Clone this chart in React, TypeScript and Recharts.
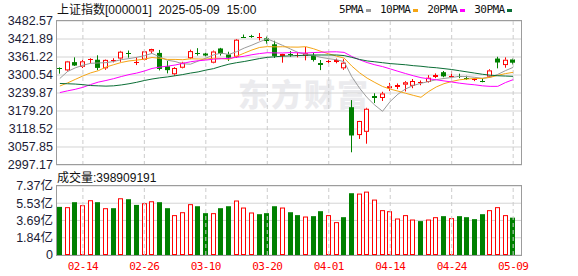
import React from 'react';
import { ComposedChart, BarChart, Bar, Line, XAxis, YAxis, CartesianGrid, ReferenceLine } from 'recharts';

// 交易日 (2025)
const dates = [
  '02-11', '02-12', '02-13', '02-14', '02-17', '02-18', '02-19', '02-20', '02-21', '02-24',
  '02-25', '02-26', '02-27', '02-28', '03-03', '03-04', '03-05', '03-06', '03-07', '03-10',
  '03-11', '03-12', '03-13', '03-14', '03-17', '03-18', '03-19', '03-20', '03-21', '03-24',
  '03-25', '03-26', '03-27', '03-28', '03-31', '04-01', '04-02', '04-03', '04-07', '04-08',
  '04-09', '04-10', '04-11', '04-14', '04-15', '04-16', '04-17', '04-18', '04-21', '04-22',
  '04-23', '04-24', '04-25', '04-28', '04-29', '04-30', '05-06', '05-07', '05-08', '05-09',
];

const opens = [
  3323, 3316, 3344, 3328, 3352, 3352, 3323, 3349, 3356, 3375,
  3343, 3352, 3380, 3375, 3330, 3303, 3325, 3357, 3376, 3373,
  3342, 3390, 3370, 3362, 3430, 3432, 3426, 3424, 3404, 3364,
  3371, 3367, 3365, 3366, 3341, 3345, 3345, 3323, 3192, 3098,
  3109, 3229, 3223, 3256, 3262, 3268, 3264, 3272, 3277, 3294,
  3310, 3295, 3298, 3292, 3282, 3282, 3295, 3356, 3334, 3353,
];
const highs = [
  3326, 3348, 3360, 3352, 3357, 3367, 3353, 3357, 3382, 3383,
  3360, 3381, 3389, 3385, 3348, 3327, 3345, 3386, 3391, 3376,
  3383, 3392, 3379, 3422, 3437, 3436, 3442, 3430, 3416, 3372,
  3381, 3376, 3395, 3376, 3351, 3352, 3356, 3354, 3216, 3146,
  3190, 3239, 3244, 3274, 3272, 3280, 3287, 3282, 3300, 3306,
  3314, 3314, 3305, 3298, 3290, 3290, 3320, 3362, 3360, 3356,
];
const lows = [
  3305, 3312, 3331, 3324, 3340, 3317, 3318, 3343, 3345, 3359,
  3334, 3350, 3374, 3316, 3306, 3298, 3323, 3354, 3366, 3362,
  3340, 3366, 3348, 3358, 3426, 3426, 3417, 3406, 3358, 3342,
  3362, 3360, 3350, 3346, 3317, 3340, 3340, 3318, 3040, 3085,
  3069, 3206, 3213, 3247, 3253, 3245, 3256, 3266, 3275, 3290,
  3293, 3289, 3290, 3284, 3280, 3276, 3293, 3323, 3325, 3336,
];
const closes = [
  3318.1, 3346.4, 3332.5, 3346.7, 3355.8, 3324.5, 3351.5, 3350.8, 3379.1, 3373.0,
  3346.0, 3380.2, 3388.1, 3320.9, 3316.9, 3324.2, 3342.0, 3381.1, 3372.6, 3366.2,
  3379.8, 3372.0, 3358.7, 3419.6, 3426.4, 3429.8, 3427.7, 3415.0, 3364.8, 3370.0,
  3370.0, 3368.7, 3373.8, 3351.3, 3335.8, 3348.4, 3351.0, 3342.0, 3096.6, 3145.6,
  3186.8, 3223.6, 3238.2, 3262.8, 3267.7, 3276.0, 3280.3, 3276.7, 3291.4, 3299.8,
  3296.0, 3297.3, 3295.1, 3288.4, 3286.7, 3279.0, 3316.1, 3342.7, 3352.0, 3342.0,
];

const ma5 = [
  3288.8, 3312.2, 3324.6, 3333.2, 3339.9, 3341.2, 3342.2, 3345.9, 3352.4, 3355.8,
  3360.1, 3365.8, 3373.3, 3361.6, 3350.4, 3346.1, 3338.4, 3337.0, 3347.4, 3357.2,
  3368.3, 3374.3, 3369.8, 3379.2, 3391.3, 3401.3, 3412.4, 3422.5, 3411.5, 3400.3,
  3388.3, 3376.5, 3369.5, 3366.8, 3359.9, 3355.6, 3351.9, 3345.5, 3294.6, 3256.5,
  3224.2, 3198.9, 3178.2, 3211.4, 3235.8, 3253.7, 3265.0, 3272.7, 3278.4, 3284.9,
  3288.9, 3292.3, 3295.9, 3295.3, 3292.7, 3289.3, 3293.1, 3302.6, 3315.3, 3326.4,
];
const ma10 = [
  3263.4, 3273.8, 3285.6, 3297.3, 3307.6, 3315.0, 3327.2, 3335.2, 3342.8, 3347.9,
  3350.7, 3354.0, 3359.6, 3357.0, 3353.1, 3353.1, 3352.1, 3355.2, 3354.5, 3353.8,
  3357.2, 3356.4, 3353.4, 3363.3, 3374.3, 3384.8, 3393.4, 3396.2, 3395.4, 3395.8,
  3394.8, 3394.5, 3396.0, 3389.2, 3380.1, 3372.0, 3364.2, 3357.5, 3330.7, 3308.2,
  3289.9, 3275.4, 3261.9, 3253.0, 3246.2, 3239.0, 3232.0, 3225.4, 3244.9, 3260.4,
  3271.3, 3278.6, 3284.3, 3286.9, 3288.8, 3289.1, 3292.7, 3299.3, 3305.3, 3309.5,
];
const ma20 = [
  3241.2, 3247.1, 3252.2, 3259.0, 3268.3, 3276.5, 3282.0, 3288.2, 3295.4, 3301.9,
  3307.0, 3313.9, 3322.6, 3327.2, 3330.4, 3334.1, 3339.7, 3345.2, 3348.6, 3350.8,
  3353.9, 3355.2, 3356.5, 3360.2, 3363.7, 3368.9, 3372.8, 3375.7, 3375.0, 3374.8,
  3376.0, 3375.4, 3374.7, 3376.2, 3377.2, 3378.4, 3378.8, 3376.8, 3363.0, 3352.0,
  3342.4, 3334.9, 3328.9, 3321.1, 3313.1, 3305.4, 3298.1, 3291.5, 3287.8, 3284.3,
  3280.6, 3277.0, 3273.1, 3269.9, 3267.5, 3264.0, 3262.3, 3262.3, 3275.1, 3284.9,
];
const ma30 = [
  3272, 3271, 3270, 3268, 3265, 3264, 3263, 3264, 3267, 3271,
  3276, 3282, 3287, 3291, 3294, 3298, 3302, 3307, 3311, 3317,
  3322, 3330, 3337, 3342, 3346, 3351, 3356, 3360, 3362, 3364,
  3365, 3366, 3367, 3368, 3368, 3368, 3368, 3366, 3360, 3353,
  3348, 3345, 3342, 3339, 3337, 3335, 3332, 3330, 3327, 3325,
  3322, 3319, 3315, 3311, 3307, 3303, 3300, 3298, 3297, 3296,
];

// 成交量 (亿)
const volumes = [
  5.14, 5.11, 5.64, 5.32, 5.85, 5.64, 5.00, 5.00, 6.06, 5.96,
  5.35, 5.53, 5.74, 5.64, 5.00, 4.26, 4.57, 5.43, 5.21, 4.47,
  4.47, 5.00, 5.21, 5.82, 5.07, 4.54, 4.36, 4.47, 5.21, 5.07,
  4.57, 4.26, 4.11, 4.15, 4.68, 4.26, 3.51, 4.04, 6.60, 6.56,
  6.77, 5.92, 4.79, 4.68, 3.90, 4.26, 3.79, 3.62, 3.79, 4.04,
  4.15, 3.94, 4.15, 4.04, 3.83, 4.36, 4.79, 5.11, 4.26, 3.99,
];
// r = 涨, g = 跌
const volDir = [
  'g', 'r', 'g', 'r', 'r', 'g', 'r', 'g', 'r', 'g',
  'g', 'r', 'r', 'g', 'g', 'r', 'r', 'r', 'g', 'g',
  'r', 'g', 'g', 'r', 'r', 'r', 'g', 'g', 'g', 'r',
  'g', 'g', 'r', 'g', 'g', 'r', 'r', 'g', 'g', 'r',
  'r', 'r', 'r', 'r', 'r', 'r', 'r', 'g', 'r', 'r',
  'g', 'r', 'g', 'g', 'g', 'g', 'r', 'r', 'r', 'g',
];

const priceTicks = [2997.17, 3057.85, 3118.52, 3179.20, 3239.87, 3300.54, 3361.22, 3421.89, 3482.57];
const volTicks = [0, 1.84, 3.69, 5.53, 7.37];
const dateTicks = ['02-14', '02-26', '03-10', '03-20', '04-01', '04-14', '04-24', '05-09'];

const maSeries = [
  { key: 'ma5', name: '5PMA', color: '#9b9b9b' },
  { key: 'ma10', name: '10PMA', color: '#f5a514' },
  { key: 'ma20', name: '20PMA', color: '#ff00ff' },
  { key: 'ma30', name: '30PMA', color: '#0b6e36' },
];

const RED = '#ff0000';
const GREEN = '#008000';
const GRID = '#d4d4d4';
const FRAME = '#9c9c9c';
const LABEL = '#1c1c36';

const rows = dates.map((d, i) => ({
  date: d, o: opens[i], h: highs[i], l: lows[i], c: closes[i],
  ma5: ma5[i], ma10: ma10[i], ma20: ma20[i], ma30: ma30[i],
  v: volumes[i], up: volDir[i] === 'r',
}));

const Candle = (props: any) => {
  const { x, y, width, height, payload } = props;
  if (x == null || !payload) return null;
  const { o, h, l, c } = payload;
  const top = Math.min(y, y + height);
  const span = Math.abs(height);
  const py = (v: number) => top + (h === l ? 0 : ((h - v) / (h - l)) * span);
  const up = c >= o;
  const color = up ? RED : GREEN;
  const left = Math.round(x + width / 2 - 2.5);
  const mid = left + 2.5;
  const bTop = py(Math.max(o, c));
  const bBot = py(Math.min(o, c));
  const bh = bBot - bTop;
  if (bh < 2) {
    return (
      <g>
        <line x1={mid} x2={mid} y1={py(h)} y2={py(l)} stroke={color} strokeWidth={1} />
        <rect x={left} y={Math.round(bTop)} width={5} height={Math.max(1, Math.round(bh))} fill={color} />
      </g>
    );
  }
  if (!up) {
    return (
      <g>
        <line x1={mid} x2={mid} y1={py(h)} y2={py(l)} stroke={color} strokeWidth={1} />
        <rect x={left} y={bTop} width={5} height={bh} fill={color} />
      </g>
    );
  }
  return (
    <g>
      <line x1={mid} x2={mid} y1={py(h)} y2={bTop} stroke={color} strokeWidth={1} />
      <rect x={left + 0.5} y={bTop + 0.5} width={4} height={bh - 1} fill="#fff" stroke={color} strokeWidth={1} />
      <line x1={mid} x2={mid} y1={bBot} y2={py(l)} stroke={color} strokeWidth={1} />
    </g>
  );
};

const VolBar = (props: any) => {
  const { x, y, width, height, payload } = props;
  if (x == null || !payload) return null;
  const left = Math.round(x + width / 2 - 2.5);
  if (payload.up) {
    return <rect x={left + 0.5} y={y + 0.5} width={4} height={Math.max(0, height - 1)} fill="#fff" stroke={RED} strokeWidth={1} />;
  }
  return <rect x={left} y={y} width={5} height={height} fill={GREEN} />;
};

const yTick = { fontSize: 12.5, fill: LABEL, fontFamily: '"Liberation Sans", "Noto Sans CJK SC", sans-serif' };
const mono = '"DejaVu Sans Mono", "Liberation Mono", monospace';
const cjk = '"Liberation Sans", "Noto Sans CJK SC", sans-serif';

export default function App() {
  return (
    <div style={{ position: 'absolute', left: 0, top: 0, width: 578, height: 276, background: '#fff', overflow: 'hidden' }}>
      {/* 水印 */}
      <div style={{ position: 'absolute', left: 238, top: 70, fontFamily: '"Noto Sans CJK SC", sans-serif', fontWeight: 900, fontSize: 31, color: '#ebebee', letterSpacing: 2, whiteSpace: 'nowrap' }}>
        东方财富
      </div>

      <div style={{ position: 'absolute', left: 0, top: 0 }}>
        <ComposedChart width={578} height={180} data={rows} margin={{ top: 21, right: 56, bottom: 15, left: 0 }}>
          <CartesianGrid vertical={false} stroke={GRID} />
          <XAxis dataKey="date" hide padding={{ left: 0, right: 5 }} />
          <YAxis domain={[2997.17, 3482.57]} ticks={priceTicks} interval={0} allowDataOverflow width={56}
            axisLine={false} tickLine={false} tickSize={0} tickMargin={3} tick={yTick}
            tickFormatter={(v: number) => v.toFixed(2)} />
          {dateTicks.map((d) => <ReferenceLine key={d} x={d} stroke="#cccccc" strokeDasharray="4 3" />)}
          {maSeries.map((m) => (
            <Line key={m.key} dataKey={m.key} stroke={m.color} strokeWidth={1} dot={false} type="linear" isAnimationActive={false} />
          ))}
          <Bar dataKey={(d: any) => [d.l, d.h]} shape={<Candle />} barSize={5} isAnimationActive={false} />
        </ComposedChart>
      </div>

      <div style={{ position: 'absolute', left: 0, top: 176 }}>
        <BarChart width={578} height={100} data={rows} margin={{ top: 10, right: 56, bottom: 0, left: 0 }}>
          <CartesianGrid vertical={false} stroke={GRID} />
          <XAxis dataKey="date" ticks={dateTicks} interval={0} padding={{ left: 0, right: 5 }} height={21}
            axisLine={false} tickLine={false} tickSize={0} tickMargin={7}
            tick={{ fill: RED, fontSize: 11, fontFamily: mono, letterSpacing: -0.6 }} />
          <YAxis domain={[0, 7.37]} ticks={volTicks} interval={0} allowDataOverflow width={56}
            axisLine={false} tickLine={false} tickSize={0} tickMargin={3} tick={yTick}
            tickFormatter={(v: number) => (v === 0 ? '0' : `${v.toFixed(2)}亿`)} />
          {dateTicks.map((d) => <ReferenceLine key={d} x={d} stroke="#cccccc" strokeDasharray="4 3" />)}
          <Bar dataKey="v" shape={<VolBar />} barSize={5} isAnimationActive={false} />
        </BarChart>
      </div>

      {/* 边框 */}
      <div style={{ position: 'absolute', left: 56, top: 20, width: 466, height: 145, border: `1px solid ${FRAME}`, boxSizing: 'border-box', pointerEvents: 'none' }} />
      <div style={{ position: 'absolute', left: 56, top: 185, width: 466, height: 71, border: `1px solid ${FRAME}`, boxSizing: 'border-box', pointerEvents: 'none' }} />

      {/* 标题 */}
      <div style={{ position: 'absolute', left: 57, top: 2, fontFamily: cjk, fontSize: 12, color: '#111', whiteSpace: 'nowrap', lineHeight: '16px' }}>
        上证指数[000001]&nbsp;&nbsp;2025-05-09&nbsp;&nbsp;15:00
      </div>

      {/* 图例 */}
      <div style={{ position: 'absolute', left: 339, top: 2, display: 'flex', alignItems: 'center', fontFamily: mono, fontSize: 11, letterSpacing: -0.6, color: '#111', whiteSpace: 'nowrap', lineHeight: '16px' }}>
        {maSeries.map((m) => (
          <span key={m.key} style={{ display: 'flex', alignItems: 'center', marginRight: 9 }}>
            <span>{m.name}</span>
            <span style={{ display: 'inline-block', width: 5, height: 3, background: m.color, marginLeft: 3 }} />
          </span>
        ))}
      </div>

      {/* 成交量 */}
      <div style={{ position: 'absolute', left: 57, top: 170, fontFamily: cjk, fontSize: 12, color: '#111', whiteSpace: 'nowrap', lineHeight: '16px' }}>
        成交量:398909191
      </div>
    </div>
  );
}
